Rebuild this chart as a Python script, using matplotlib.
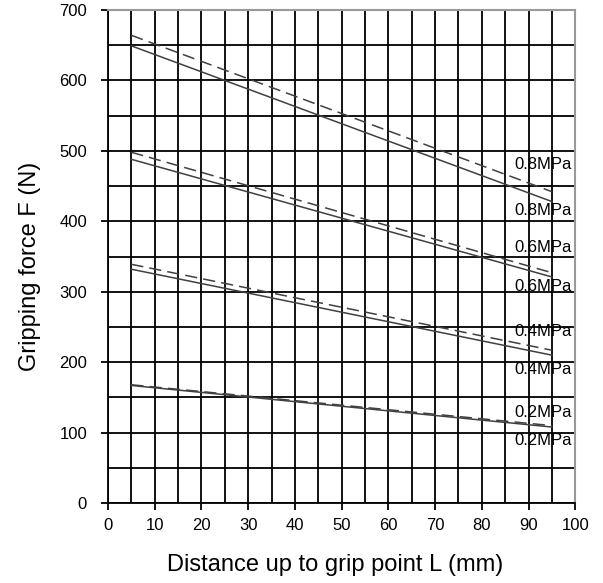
import matplotlib.pyplot as plt
import numpy as np

plt.rcParams['font.family'] = ['Liberation Sans', 'DejaVu Sans']

# distance L (mm) at line ends
dist = [5, 95]

# gripping force (N), solid and dashed lines per pressure
f08_solid = [649, 428]
f08_dash = [664, 442]
f06_solid = [488, 321]
f06_dash = [498, 327]
f04_solid = [332, 210]
f04_dash = [339, 217]
f02_solid = [167, 108]
f02_dash = [168, 110]

labels = ["0.8MPa", "0.8MPa", "0.6MPa", "0.6MPa", "0.4MPa", "0.4MPa", "0.2MPa", "0.2MPa"]
label_y = [480, 416, 363, 308, 244, 190, 129, 89]

fig = plt.figure(figsize=(6.03, 5.83), dpi=100)
ax = fig.add_axes([0.179, 0.137, 0.775, 0.846])

ax.set_xlim(0, 100)
ax.set_ylim(0, 700)
ax.set_xticks(np.arange(0, 101, 10))
ax.set_yticks(np.arange(0, 701, 100))
ax.set_xticks(np.arange(0, 101, 5), minor=True)
ax.set_yticks(np.arange(0, 701, 50), minor=True)
ax.grid(True, which="both", color="black", linewidth=1.3)
ax.tick_params(which="minor", length=0)
ax.tick_params(which="major", direction="out", length=5, width=1.3, labelsize=12)
ax.tick_params(axis="y", pad=10)
ax.tick_params(axis="x", pad=6)
ax.set_axisbelow(True)

for s in ["top", "right"]:
    ax.spines[s].set_color("#999999")
    ax.spines[s].set_linewidth(1.5)
for s in ["left", "bottom"]:
    ax.spines[s].set_color("black")
    ax.spines[s].set_linewidth(1.3)

c = "#404040"
for sol, dsh in [(f08_solid, f08_dash), (f06_solid, f06_dash),
                 (f04_solid, f04_dash), (f02_solid, f02_dash)]:
    ax.plot(dist, sol, color=c, linewidth=1.1, zorder=3)
    ax.plot(dist, dsh, color=c, linewidth=1.1, linestyle=(0, (8, 4)), zorder=3)

for t, y in zip(labels, label_y):
    ax.text(93.2, y, t, fontsize=12, ha="center", va="center", zorder=4)

ax.set_xlabel("Distance up to grip point L (mm)", fontsize=17, labelpad=15)
ax.set_ylabel("Gripping force F (N)", fontsize=17, labelpad=13)
ax.xaxis.label.set_x(0.486)
ax.yaxis.label.set_y(0.48)

fig.savefig("out.png", dpi=100)
